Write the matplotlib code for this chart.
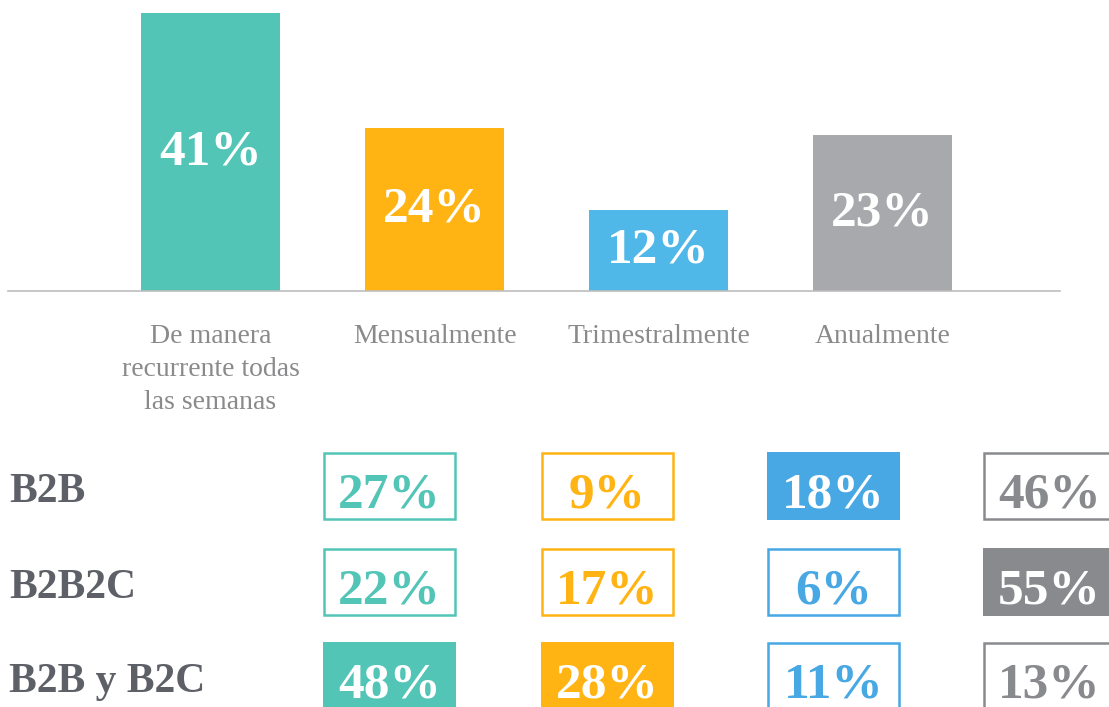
import matplotlib
matplotlib.use("Agg")
import matplotlib.pyplot as plt
from matplotlib.patches import Rectangle

# ---- data ----
categories = ["De manera\nrecurrente todas\nlas semanas", "Mensualmente",
              "Trimestralmente", "Anualmente"]
overall = [41, 24, 12, 23]
segments = ["B2B", "B2B2C", "B2B y B2C"]
b2b = [27, 9, 18, 46]
b2b2c = [22, 17, 6, 55]
b2b_y_b2c = [48, 28, 11, 13]

# ---- styles ----
bar_colors = ["#52C5B7", "#FFB414", "#50B8E8", "#A8A9AD"]
cell_colors = ["#52C5B7", "#FFB414", "#47A8E4", "#898A8E"]
label_gray = "#8A8A8C"
row_gray = "#5E6068"
SERIF = ["Liberation Serif", "DejaVu Serif"]

W, H = 1109, 707
fig = plt.figure(figsize=(W / 100, H / 100), dpi=100)
fig.patch.set_facecolor("white")

# ---- bar chart ----
base_px = 291
ax = fig.add_axes([8 / W, (H - base_px) / H, 1052 / W, base_px / H])
px_per_unit = 6.78
ax.set_ylim(0, base_px / px_per_unit)
ax.set_xlim(-0.904, 3.792)
xs = list(range(len(overall)))
ax.bar(xs, overall, width=0.62, color=bar_colors, zorder=2)
for x, v in zip(xs, overall):
    ax.text(x, v / 2, f"{v}%", ha="center", va="center", color="white",
            fontsize=37, fontweight="bold", family=SERIF, zorder=3)
for s in ["top", "left", "right"]:
    ax.spines[s].set_visible(False)
ax.spines["bottom"].set_color("#BDBDBD")
ax.spines["bottom"].set_linewidth(1.2)
ax.set_yticks([])
ax.set_xticks(xs)
ax.set_xticklabels(categories, fontsize=20, color=label_gray, family=SERIF,
                   linespacing=1.42, multialignment="center")
ax.tick_params(axis="x", length=0, pad=24)
ax.set_facecolor("none")

# ---- table ----
tab = fig.add_axes([0, 0, 1, 1])
tab.set_xlim(0, W)
tab.set_ylim(H, 0)
tab.axis("off")
tab.set_facecolor("none")

rows = [b2b, b2b2c, b2b_y_b2c]
col_centers = [389.5, 607.5, 833.5, 1049.5]
row_centers = [486, 582, 676]
box_w, box_h = 133, 68
col_max = [max(r[j] for r in rows) for j in range(len(col_centers))]

for i, (name, vals) in enumerate(zip(segments, rows)):
    yc = row_centers[i]
    tab.text(9, yc + 16, name, ha="left", va="baseline", fontsize=30,
             fontweight="bold", color=row_gray, family=SERIF)
    for j, v in enumerate(vals):
        xc = col_centers[j]
        c = cell_colors[j]
        filled = v == col_max[j]
        if filled:
            r = Rectangle((xc - box_w / 2, yc - box_h / 2), box_w, box_h,
                          facecolor=c, edgecolor="none")
            tcol = "white"
        else:
            r = Rectangle((xc - box_w / 2 + 1, yc - box_h / 2 + 1), box_w - 2, box_h - 2,
                          facecolor="white", edgecolor=c, linewidth=1.8)
            tcol = c
        tab.add_patch(r)
        tab.text(xc, yc + 22, f"{v}%", ha="center", va="baseline", fontsize=37,
                 fontweight="bold", color=tcol, family=SERIF)

fig.savefig("out.png", dpi=100, facecolor="white")
